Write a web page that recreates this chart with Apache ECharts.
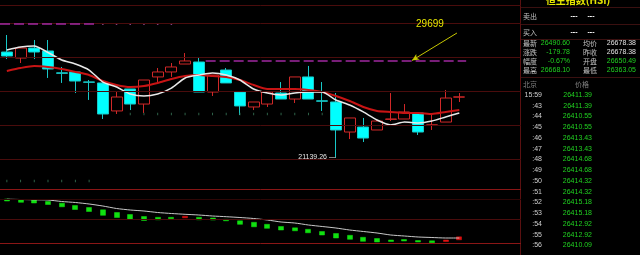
<!DOCTYPE html>
<html><head><meta charset="utf-8">
<script src="https://cdn.jsdelivr.net/npm/echarts@6/dist/echarts.min.js"></script>
<style>html,body{margin:0;padding:0;background:#000;}#c{width:640px;height:255px;}</style>
</head><body><div id="c"></div>
<script>
// ---------- data ----------
const categories = ['K01','K02','K03','K04','K05','K06','K07','K08','K09','K10','K11','K12','K13','K14','K15','K16','K17','K18','K19','K20','K21','K22','K23','K24','K25','K26','K27','K28','K29','K30','K31','K32','K33','K34','K35','K36','K37','K38'];
// [open, close, low, high]
const candleOHLC = [
 [30440,30090,29820,31940],[29910,30790,29470,30850],[30790,30440,29820,31500],[30530,28940,28150,31500],
 [28600,28560,27710,29120],[28680,27880,26820,28680],[27800,27770,26210,27970],[27710,24970,24530,27710],
 [25240,26470,24970,26910],[27180,25850,25320,27180],[25850,27970,25060,27970],[28240,28680,27710,29030],
 [28680,29120,28240,29470],[29380,29650,29380,30350],[29560,26910,26910,30000],[26910,28410,26560,28410],
 [28850,27710,27710,29030],[26910,25680,24880,26910],[25590,26030,25320,26030],[25850,26910,25590,26910],
 [26820,26290,26290,27790],[26290,28240,25940,28240],[28240,26290,26290,29210],[26130,26100,25240,27790],
 [26030,23560,21139.26,26820],[23380,24620,22760,24620],[23820,22850,22500,24620],[23560,24350,23560,24530],
 [24500,24530,24350,26820],[24530,25150,24530,25850],[25060,23380,23120,25060],[23990,24010,23560,24880],
 [24260,26380,24260,27090],[26460,26480,26030,26820]
];
const maWhite = [30620,30880,30970,30400,29740,29380,28850,27790,27350,26740,26560,26740,27260,28150,28410,28590,28410,27970,27180,26820,26650,26820,26910,26910,26210,25760,25150,24440,24000,24260,24180,24350,24710,25060];
const maRed = [28770,29030,29210,29120,28940,28680,28410,27880,27530,27350,27440,27710,28060,28320,28410,28320,28240,27970,27530,27180,27180,27180,27090,26910,26560,26120,25590,25240,25150,25060,25060,24970,25150,25320];
const priceGridLevels = [33000,30000,27000,24000,21000];
const previousHighLevel = 32912;
const resistanceLevel = 29699;
// indicator panel: [from, to]
const indBars = [[440,420],[432,407],[430,400],[415,385],[398,362],[375,335],[355,315],[332,277],[305,255],[285,235],[265,225],[257,232],[257,242],[252,267],[257,232],[250,230],[237,222],[222,187],[207,162],[187,147],[165,130],[152,122],[137,102],[115,80],[95,50],[77,37],[57,17],[45,10],[30,15],[35,20],[25,10],[22,2],[15,30],[32,62]];
const indLine = [438,435,432,430,415,405,390,370,345,330,320,305,295,287,280,270,263,255,245,230,210,200,180,165,150,130,115,100,80,70,60,55,50,50];
const dotsPurple = [[7,32912],[8,32912],[9,32912],[10,32912],[11,32912],[12,32912]];
const dotsGreen = [[0,19060],[1,19060],[2,19060],[3,19060],[4,19060],[5,19060],[6,19060],
 [9,24970],[10,24970],[11,24970],[12,24970],[13,24970],[14,24970],[15,24970],[16,24970],[17,24970],[18,24970],[19,24970],[20,24970],[21,24970],[22,24970],[23,24970]];
// right panel texts
const panelTitle = '恒生指数(HSI)';
const bidAskLabels = ['卖出','买入'];
const quoteRows = [
 ['最新','26490.60','均价','26678.38'],
 ['涨跌','-179.78','昨收','26678.38'],
 ['幅度','-0.67%','开盘','26650.49'],
 ['最高','26668.10','最低','26363.05']
];
const tickHeader = ['北京','价格'];
const tickTimes = ['15:59',':43',':44',':45',':46',':47',':48',':49',':50',':51',':52',':53',':54',':55',':56'];
const tickPrices = ['26411.39','26411.39','26410.55','26410.55','26413.43','26413.43','26414.68','26414.68','26414.32','26414.32','26415.18','26415.18','26412.92','26412.92','26410.09'];

// ---------- render ----------
const chart = echarts.init(document.getElementById('c'), null, {renderer:'canvas'});
const DIM = '#4a0c0c', BRIGHT = '#8a1616';
const CJK = '"Noto Sans CJK SC", sans-serif';
const NUM = '"Liberation Sans", Arial, sans-serif';
const gl = (v, c) => ({yAxis: v, lineStyle: {color: c, width: 1, type: 'solid'}});

const g = [];
const px = 521;
g.push({type:'rect', shape:{x:px, y:0, width:119, height:255}, style:{fill:'#000'}, z:0});
g.push({type:'line', shape:{x1:520.5, y1:0, x2:520.5, y2:255}, style:{stroke:'#5a1010', lineWidth:1}});
g.push({type:'text', style:{text:panelTitle, x:578, y:0.5, fill:'#e6e600', font:'bold 10px '+CJK, textAlign:'center', align:'center', textVerticalAlign:'middle', verticalAlign:'middle'}});
[7.5, 24.5, 39.5, 77.5].forEach(y => g.push({type:'line', shape:{x1:px, y1:y, x2:640, y2:y}, style:{stroke:'#3a1010', lineWidth:1}}));
const T = (text, x, y, fill, font, align) => g.push({type:'text', style:{text, x, y, fill, font, textAlign:align||'left', align:align||'left', textVerticalAlign:'middle', verticalAlign:'middle'}});
bidAskLabels.forEach((l, i) => {
  const y = 16 + i * 16;
  T(l, 523, y, '#c0c0c0', '7px '+CJK);
  T('---', 574, y, '#ffffff', 'bold 7px '+NUM, 'center');
  T('---', 591, y, '#ffffff', 'bold 7px '+NUM, 'center');
});
const v2c = ['#e0e0e0','#e0e0e0','#20d020','#20d020'];
quoteRows.forEach((r, i) => {
  const y = 43.5 + i * 8.8;
  T(r[0], 523, y, '#c0c0c0', '7px '+CJK);
  T(r[1], 570, y, '#20d020', '7px '+NUM, 'right');
  T(r[2], 583, y, '#c0c0c0', '7px '+CJK);
  T(r[3], 636, y, v2c[i], '7px '+NUM, 'right');
});
T(tickHeader[0], 523, 84, '#808080', '7px '+CJK);
T(tickHeader[1], 582, 84, '#808080', '7px '+CJK, 'center');
tickTimes.forEach((t, i) => {
  const y = 95 + i * 10.75;
  T(t, 542, y, '#d0d0d0', '7px '+NUM, 'right');
  T(tickPrices[i], 592, y, '#20d020', '7px '+NUM, 'right');
});

const option = {
  backgroundColor: '#000',
  animation: false,
  grid: [
    {left:0, right:119, top:5, bottom:66},
    {left:0, right:119, top:189, bottom:12}
  ],
  xAxis: [
    {type:'category', gridIndex:0, data:categories, show:false, boundaryGap:true},
    {type:'category', gridIndex:1, data:categories, show:false, boundaryGap:true},
    {type:'value', gridIndex:0, min:-0.5, max:categories.length-0.5, show:false}
  ],
  yAxis: [
    {type:'value', gridIndex:0, min:18353, max:34588, show:false, splitLine:{show:false}},
    {type:'value', gridIndex:1, min:0, max:540, show:false, splitLine:{show:false}}
  ],
  series: [
    {
      type:'candlestick', xAxisIndex:0, yAxisIndex:0, data:candleOHLC, barWidth:11.5,
      itemStyle:{color:'#000000', color0:'#00ffff', borderColor:'#d02828', borderColor0:'#18c8c8', borderWidth:1},
      markLine:{silent:true, symbol:['none','none'], label:{show:false}, animation:false,
        data:[gl(34588, DIM)].concat(priceGridLevels.map(v => gl(v, DIM)))},
      markPoint:{silent:true, symbol:'circle', symbolSize:0, animation:false,
        data:[{type:'min', valueDim:'lowest'}],
        label:{show:true, position:'left', distance:0, color:'#e8e8e8', fontSize:7, fontFamily:NUM,
          formatter: p => p.value.toFixed(2) + ' —'}}
    },
    {type:'line', xAxisIndex:0, yAxisIndex:0, data:maRed, showSymbol:false, smooth:0.2,
      lineStyle:{color:'#c81414', width:2}, z:3},
    {type:'line', xAxisIndex:0, yAxisIndex:0, data:maWhite, showSymbol:false, smooth:0.2,
      lineStyle:{color:'#e8e8e8', width:1.5}, z:4},
    {
      type:'scatter', xAxisIndex:2, yAxisIndex:0, data:dotsPurple, symbol:'rect', symbolSize:[1.5,2],
      itemStyle:{color:'#a050a0'},
      markLine:{silent:true, symbol:['none','none'], label:{show:false}, animation:false,
        data:[
          [{coord:[-0.5, previousHighLevel], lineStyle:{color:'#a028a0', width:1.5, type:[10,4]}}, {coord:[6.5, previousHighLevel]}],
          [{coord:[14.5, resistanceLevel], lineStyle:{color:'#a028a0', width:1.5, type:[10,4]}}, {coord:[33.5, resistanceLevel]}],
          [{coord:[32.83, 32118], symbol:'none', lineStyle:{color:'#c8c800', width:1, type:'solid'}}, {coord:[29.55, resistanceLevel], symbol:'arrow', symbolSize:[5,7]}]
        ]},
      markPoint:{silent:true, symbol:'circle', symbolSize:0, animation:false,
        data:[{coord:[30.86, previousHighLevel], value:resistanceLevel}],
        label:{show:true, position:'inside', color:'#e6e600', fontSize:10, fontFamily:NUM,
          formatter: p => String(p.value)}}
    },
    {type:'scatter', xAxisIndex:2, yAxisIndex:0, data:dotsGreen, symbol:'rect', symbolSize:[1,2.5],
      itemStyle:{color:'#3a7a5a'}},
    {
      type:'candlestick', xAxisIndex:1, yAxisIndex:1, barWidth:5.5,
      data: indBars.map(b => [b[0], b[1], Math.min(b[0], b[1]), Math.max(b[0], b[1])]),
      itemStyle:{color:'#e01010', color0:'#10e010', borderColor:'#e01010', borderColor0:'#10e010', borderWidth:0.5},
      markLine:{silent:true, symbol:['none','none'], label:{show:false}, animation:false,
        data:[gl(540, BRIGHT), gl(440, '#2e0606'), gl(240, DIM), gl(0, BRIGHT)]}
    },
    {type:'line', xAxisIndex:1, yAxisIndex:1, data:indLine, showSymbol:false, smooth:0.2,
      lineStyle:{color:'#c8c8c8', width:1}, z:4}
  ],
  graphic: g
};
chart.setOption(option);
</script>
</body></html>
